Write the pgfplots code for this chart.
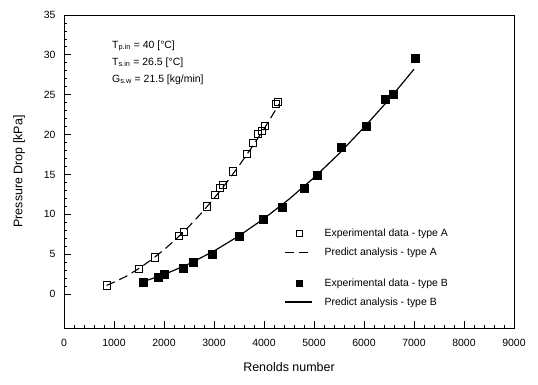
\documentclass[border=0pt]{standalone}
\usepackage{fontspec}
\setmainfont{Liberation Sans}
\usepackage{pgfplots}
\pgfplotsset{compat=1.18}

% measured pressure drop, type A
\pgfplotstableread{
re   dp
860  1.1
1490 3.2
1820 4.6
2300 7.3
2390 7.8
2850 11.0
3020 12.4
3120 13.3
3180 13.7
3380 15.4
3660 17.6
3780 19.0
3880 20.1
3960 20.5
4020 21.1
4240 23.9
4280 24.1
}\expA

% measured pressure drop, type B
\pgfplotstableread{
re   dp
1580 1.5
1880 2.1
2000 2.5
2380 3.3
2580 4.0
2960 5.0
3500 7.25
3980 9.35
4360 10.9
4800 13.3
5060 14.9
5540 18.4
6040 21.0
6420 24.4
6580 25.1
7020 29.6
}\expB

% predicted curves
\pgfplotstableread{
re   dp
850  1.09
1000 1.49
1250 2.25
1500 3.22
1750 4.32
2000 5.56
2250 6.95
2500 8.49
2750 10.17
3000 12.0
3250 13.98
3500 16.1
3750 18.35
4000 20.7
4300 23.8
}\preA

\pgfplotstableread{
re   dp
1550 1.49
2000 2.45
2500 3.79
3000 5.40
3500 7.30
4000 9.47
4500 11.9
5000 14.6
5500 17.6
6000 20.9
6500 24.4
7000 28.2
}\preB

\pgfplotsset{
  linekey/.style={legend image code/.code={
    \draw[##1] (0cm,0cm) -- (0.95cm,0cm);
    \path (1.3cm,0cm);}},
  markkey/.style={legend image code/.code={
    \draw[##1, mark size=3bp] plot coordinates {(0.5cm,0cm)};
    \path (0cm,0cm) (1.3cm,0cm);}},
}

\begin{document}
\begin{tikzpicture}
\useasboundingbox (-64bp,-57bp) rectangle (474bp,328bp);
\begin{axis}[
  scale only axis,
  width=450bp, height=313bp,
  xmin=0, xmax=9000, ymin=-4.25, ymax=35,
  xtick={0,1000,...,9000},
  ytick={0,5,...,35},
  minor x tick num=4,
  minor y tick num=4,
  xtick pos=bottom, ytick pos=left,
  tick align=inside,
  major tick length=7bp,
  minor tick length=3bp,
  every tick/.style={black, line width=0.8pt},
  axis line style={line width=0.7pt},
  scaled x ticks=false,
  /pgf/number format/assume math mode=true,
  /pgf/number format/1000 sep={},
  tick label style={font=\fontsize{10.5}{12}\selectfont},
  xticklabel style={yshift=-8bp},
  yticklabel style={xshift=-5bp},
  xlabel={Renolds number},
  ylabel={Pressure Drop [kPa]},
  label style={font=\fontsize{12.5}{14}\selectfont},
  xlabel style={yshift=-9bp},
  ylabel style={yshift=12bp},
  legend cell align=left,
  legend style={draw=none, fill=none, at={(0.483,0.33)}, anchor=north west,
    font=\fontsize{10.5}{12}\selectfont, row sep=6bp},
]
\addplot[only marks, mark=square, mark size=3.6bp, mark options={line width=0.7pt}, markkey] table[x=re,y=dp] {\expA};
\addlegendentry{Experimental data - type A}
\addplot[no marks, line width=1.1pt, dash pattern=on 9bp off 5bp, linekey] table[x=re,y=dp] {\preA};
\addlegendentry{Predict analysis - type A}
\addlegendimage{empty legend}
\addlegendentry{}
\addplot[only marks, mark=square*, mark size=4bp, markkey] table[x=re,y=dp] {\expB};
\addlegendentry{Experimental data - type B}
\addplot[no marks, line width=1.2pt, linekey] table[x=re,y=dp] {\preB};
\addlegendentry{Predict analysis - type B}

\node[anchor=north west, align=left, inner sep=0pt,
  font=\fontsize{10.5}{17}\selectfont]
  at (axis cs:960,31.8)
  {T\textsubscript{p.in} = 40 [°C]\\
   T\textsubscript{s.in} = 26.5 [°C]\\
   G\textsubscript{s.w} = 21.5 [kg/min]};
\end{axis}
\end{tikzpicture}
\end{document}
